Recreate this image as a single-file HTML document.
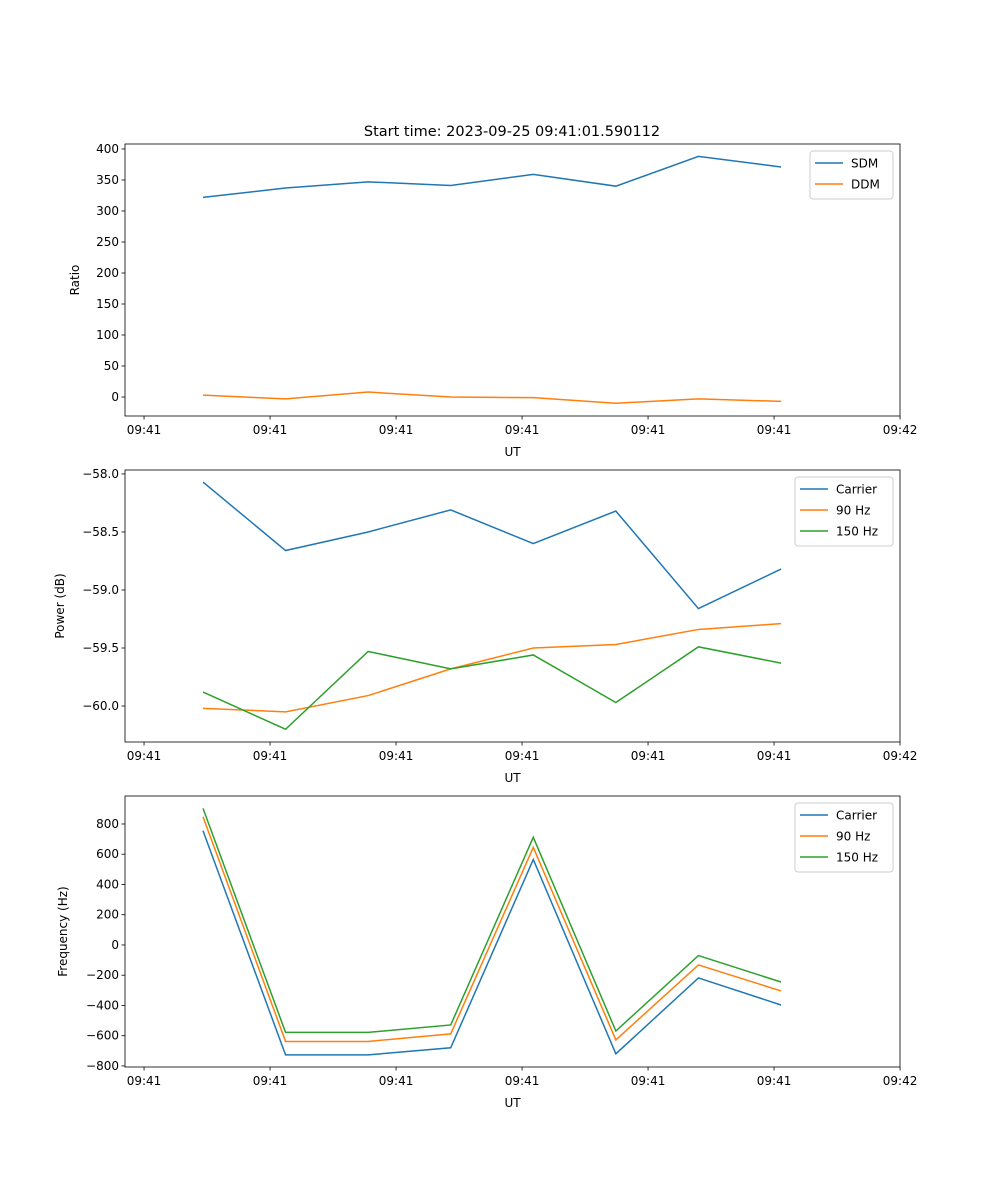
<!DOCTYPE html>
<html><head><meta charset="utf-8"><style>
body{margin:0;background:#fff;}
svg{display:block;font-family:"DejaVu Sans","Liberation Sans",sans-serif;}
</style></head><body>
<svg id="fig" width="1000" height="1200" xmlns="http://www.w3.org/2000/svg"></svg>
<script>
const xTickLabels = ["09:41","09:41","09:41","09:41","09:41","09:41","09:42"];
const xIndex = [0,1,2,3,4,5,6,7];
const sdm = [322,337,347,341,359,340,388,371];
const ddm = [3,-3,8,0,-1,-10,-3,-7];
const powCarrier = [-58.07,-58.66,-58.5,-58.31,-58.6,-58.32,-59.16,-58.82];
const pow90 = [-60.02,-60.05,-59.91,-59.68,-59.5,-59.47,-59.34,-59.29];
const pow150 = [-59.88,-60.2,-59.53,-59.68,-59.56,-59.97,-59.49,-59.63];
const freqCarrier = [755,-727,-727,-680,565,-720,-218,-397];
const freq90 = [848,-638,-638,-588,645,-628,-132,-304];
const freq150 = [903,-578,-578,-529,712,-569,-70,-245];
const ticks1 = [0,50,100,150,200,250,300,350,400];
const ticks2 = [-60.0,-59.5,-59.0,-58.5,-58.0];
const ticks3 = [-800,-600,-400,-200,0,200,400,600,800];

const NS="http://www.w3.org/2000/svg";
const svg=document.getElementById('fig');
function mk(tag,attrs,parent){const e=document.createElementNS(NS,tag);for(const k in attrs)e.setAttribute(k,attrs[k]);(parent||svg).appendChild(e);return e;}
const L=125,R=900;
const xs=i=>203+82.57*i;
const xTickPix=[-0.714,0.812,2.338,3.864,5.39,6.916,8.442];
const colors={b:"#1f77b4",o:"#ff7f0e",g:"#2ca02c"};

function panel(name,top,bot,ymin,ymax,ticks,fmt,ylabel,series,legend){
  const g=mk('g',{});
  
  
  const ys=v=>bot-(v-ymin)/(ymax-ymin)*(bot-top);
  series.forEach(s=>{
    const pl=mk('polyline',{points:s.data.map((v,i)=>xs(xIndex[i])+','+ys(v)).join(' '),fill:'none',stroke:s.c,'stroke-width':1.5},g);
    
    
  });
  const fr=mk('rect',{x:L,y:top,width:R-L,height:bot-top,fill:'none',stroke:'#000','stroke-width':0.8},g);
  
  
  ticks.forEach(t=>{
    const y=ys(t);
    mk('line',{x1:L-3.5,x2:L,y1:y,y2:y,stroke:'#000','stroke-width':0.8},g);
    const tx=mk('text',{x:L-6,y:y+4,'font-size':12,'text-anchor':'end'},g);
    tx.textContent=fmt(t);
    
    
  });
  xTickPix.forEach((p,i)=>{
    const x=xs(p);
    mk('line',{x1:x,x2:x,y1:bot,y2:bot+3.5,stroke:'#000','stroke-width':0.8},g);
    const tx=mk('text',{x:x,y:bot+18,'font-size':12,'text-anchor':'middle'},g);
    tx.textContent=xTickLabels[i];
    
    
  });
  const xl=mk('text',{x:(L+R)/2,y:bot+40,'font-size':12,'text-anchor':'middle'},g);
  xl.textContent='UT';
  
  
  const yl=mk('text',{x:0,y:0,'font-size':12,'text-anchor':'middle',transform:`translate(${legend.yl},${(top+bot)/2}) rotate(-90)`},g);
  yl.textContent=ylabel;
  
  
  const lg=mk('g',{},g);
  
  
  mk('rect',{x:legend.x,y:top+7,width:R-7-legend.x,height:series.length*21+6,rx:3,fill:'#fff',stroke:'#ccc','stroke-width':1},lg);
  series.forEach((s,i)=>{
    const y=top+19+i*21;
    mk('line',{x1:legend.x+5,x2:legend.x+33,y1:y,y2:y,stroke:s.c,'stroke-width':1.5},lg);
    const t=mk('text',{x:legend.x+41,y:y+4.5,'font-size':12},lg);
    t.textContent=s.n;
    
    
  });
}
const tt=mk('text',{x:512,y:136,'font-size':14.5,'text-anchor':'middle'});
tt.textContent='Start time: 2023-09-25 09:41:01.590112';



panel('ratio-panel',144,416,-30.6,408,ticks1,v=>String(v),'Ratio',
  [{n:'SDM',c:colors.b,data:sdm},{n:'DDM',c:colors.o,data:ddm}],{x:810,yl:79});
panel('power-panel',470,742,-60.31,-57.966,ticks2,v=>(v<0?'\u2212':'')+Math.abs(v).toFixed(1),'Power (dB)',
  [{n:'Carrier',c:colors.b,data:powCarrier},{n:'90 Hz',c:colors.o,data:pow90},{n:'150 Hz',c:colors.g,data:pow150}],{x:795,yl:64});
panel('frequency-panel',796,1067,-807,985,ticks3,v=>(v<0?'\u2212':'')+Math.abs(v),'Frequency (Hz)',
  [{n:'Carrier',c:colors.b,data:freqCarrier},{n:'90 Hz',c:colors.o,data:freq90},{n:'150 Hz',c:colors.g,data:freq150}],{x:795,yl:67});
</script>
</body></html>
